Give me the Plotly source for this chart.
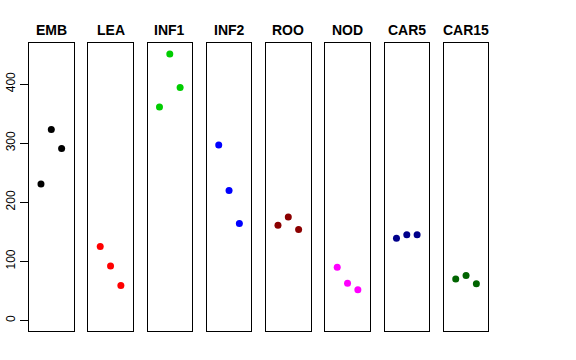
import plotly.graph_objects as go

panels = ["EMB", "LEA", "INF1", "INF2", "ROO", "NOD", "CAR5", "CAR15"]
colors = ["#000000", "#FF0000", "#00CD00", "#0000FF", "#8B0000", "#FF00FF", "#00008B", "#006400"]
x_pos = [1, 2, 3]
emb = [231, 323, 291]
lea = [125, 92, 59]
inf1 = [361, 451, 394]
inf2 = [297, 220, 164]
roo = [161, 175, 154]
nod = [90, 63, 52]
car5 = [139, 145, 145]
car15 = [70, 76, 62]
series = [emb, lea, inf1, inf2, roo, nod, car5, car15]
y_ticks = [0, 100, 200, 300, 400]

W, H = 576, 360
left0, step, pw = 29.0, 59.25, 44.6
top_px, bot_px = 43.3, 331.0
title_px = 29.5

fig = go.Figure()
layout = dict(
    width=W, height=H, margin=dict(l=0, r=0, t=0, b=0, autoexpand=False),
    paper_bgcolor="white", plot_bgcolor="white", showlegend=False,
    font=dict(family="Liberation Sans, Arial, sans-serif", color="black"),
)
annotations = []
for i, (name, col, vals) in enumerate(zip(panels, colors, series)):
    idx = "" if i == 0 else str(i + 1)
    fig.add_trace(go.Scatter(
        x=x_pos, y=vals, mode="markers",
        marker=dict(color=col, size=7, line=dict(width=0)),
        xaxis="x" + idx, yaxis="y" + idx,
    ))
    l = left0 + step * i
    xd = [l / W, (l + pw) / W]
    yd = [(H - bot_px) / H, (H - top_px) / H]
    layout["xaxis" + idx] = dict(
        domain=xd, range=[-0.16, 4.16], showgrid=False, zeroline=False,
        showticklabels=False, ticks="", showline=True, mirror=True,
        linecolor="black", linewidth=1, anchor="y" + idx, automargin=False,
    )
    yax = dict(
        domain=yd, range=[-18.04, 469.04], showgrid=False, zeroline=False,
        showline=True, mirror=True, linecolor="black", linewidth=1,
        anchor="x" + idx, automargin=False,
    )
    if i == 0:
        yax.update(tickvals=y_ticks, ticktext=[str(v) for v in y_ticks],
                   ticks="outside", ticklen=8, tickcolor="black", tickwidth=1,
                   tickangle=-90, tickfont=dict(size=12, color="black"))
    else:
        yax.update(showticklabels=False, ticks="")
    layout["yaxis" + idx] = yax
    annotations.append(dict(
        text="<b>" + name + "</b>", x=(l + pw / 2) / W, y=(H - title_px) / H,
        xref="paper", yref="paper", showarrow=False, xanchor="center",
        yanchor="middle", font=dict(size=14, color="black"),
    ))
layout["annotations"] = annotations
fig.update_layout(**layout)
fig.write_html("out.html", config={"displayModeBar": False},
               post_script="document.body.style.margin='0';")
